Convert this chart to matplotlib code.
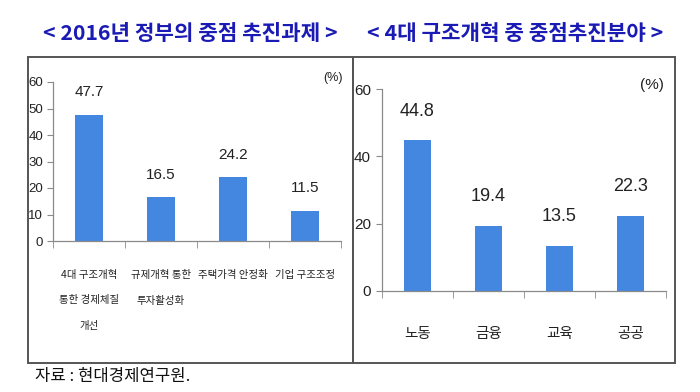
import matplotlib
matplotlib.use("Agg")
import matplotlib.pyplot as plt
from matplotlib.patches import Rectangle

plt.rcParams['font.family'] = ['Liberation Sans', 'Noto Sans CJK KR', 'DejaVu Sans']
KR = ['Noto Sans CJK KR', 'DejaVu Sans']

# data
left_title = "< 2016년 정부의 중점 추진과제 >"
left_cats = ["4대 구조개혁\n통한 경제체질\n개선", "규제개혁 통한\n투자활성화", "주택가격 안정화", "기업 구조조정"]
left_vals = [47.7, 16.5, 24.2, 11.5]
left_yticks = [0, 10, 20, 30, 40, 50, 60]

right_title = "< 4대 구조개혁 중 중점추진분야 >"
right_cats = ["노동", "금융", "교육", "공공"]
right_vals = [44.8, 19.4, 13.5, 22.3]
right_yticks = [0, 20, 40, 60]

source = "자료 : 현대경제연구원."

W, H = 700, 392
bar_color = "#4387e0"
title_color = "#1a1ab4"
text_color = "#222222"

fig = plt.figure(figsize=(7, 3.92), dpi=100)


def px_axes(x0, x1, y_top, y_bot):
    return fig.add_axes([x0 / W, (H - y_bot) / H, (x1 - x0) / W, (y_bot - y_top) / H])


def draw_panel(ax, cats, vals, yticks, tick_fs, val_fs, cat_fs, val_off, cat_pad, linesp, ypad):
    x = range(len(cats))
    ax.bar(x, vals, width=0.38, color=bar_color, zorder=2)
    ax.set_xlim(-0.5, len(cats) - 0.5)
    ax.set_ylim(0, 60)
    for s in ["top", "right"]:
        ax.spines[s].set_visible(False)
    for s in ["left", "bottom"]:
        ax.spines[s].set_color("#8a8a8a")
        ax.spines[s].set_linewidth(0.9)
    ax.set_yticks(yticks)
    ax.set_yticklabels([str(v) for v in yticks], fontsize=tick_fs, color=text_color)
    ax.tick_params(axis="y", length=4, color="#8a8a8a", pad=ypad)
    ax.set_xticks(list(x))
    ax.set_xticklabels(cats, fontsize=cat_fs, color=text_color, linespacing=linesp,
                       va="top", family=KR)
    ax.tick_params(axis="x", which="major", length=0, pad=cat_pad)
    ax.set_xticks([i - 0.5 for i in range(len(cats) + 1)], minor=True)
    ax.tick_params(axis="x", which="minor", length=5, color="#8a8a8a", direction="out")
    for i, v in enumerate(vals):
        ax.annotate(f"{v:.1f}", (i, v), xytext=(0, val_off), textcoords="offset points",
                    ha="center", va="center", fontsize=val_fs, color=text_color)
    ax.patch.set_alpha(0)


axL = px_axes(53, 341, 82, 241)
draw_panel(axL, left_cats, left_vals, left_yticks, 9.5, 11, 7.5, 16, 21, 2.9, 3)
fig.text(343 / W, 1 - 78 / H, "(%)", ha="right", va="center", fontsize=9, color=text_color)

axR = px_axes(382, 666, 89, 291)
draw_panel(axR, right_cats, right_vals, right_yticks, 11, 13, 10.5, 21, 26, 1.5, 4)
fig.text(664 / W, 1 - 85 / H, "(%)", ha="right", va="center", fontsize=11, color=text_color)

# panel boxes
for x0, x1 in [(28, 353), (353, 675)]:
    fig.patches.append(Rectangle((x0 / W, 1 - 363 / H), (x1 - x0) / W, (363 - 57) / H,
                                 transform=fig.transFigure, fill=False,
                                 edgecolor="#555555", linewidth=1.4, zorder=0))

fig.text(190 / W, 1 - 33 / H, left_title, ha="center", va="center", fontsize=15.3,
         fontweight="bold", color=title_color, family=KR)
fig.text(515 / W, 1 - 33 / H, right_title, ha="center", va="center", fontsize=15.3,
         fontweight="bold", color=title_color, family=KR)
fig.text(35 / W, 1 - 376 / H, source, ha="left", va="center", fontsize=12,
         color="#111111", family=KR)

fig.savefig("out.png", dpi=100)
